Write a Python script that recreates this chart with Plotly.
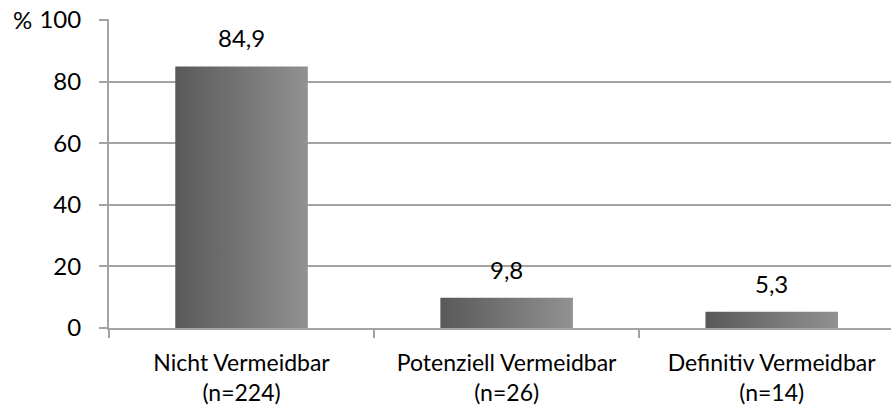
import plotly.graph_objects as go

categories = ["Nicht Vermeidbar<br>(n=224)", "Potenziell Vermeidbar<br>(n=26)", "Definitiv Vermeidbar<br>(n=14)"]
values = [84.9, 9.8, 5.3]
value_labels = ["84,9", "9,8", "5,3"]
y_ticks = [0, 20, 40, 60, 80, 100]

FONT = "Lato"
FS = 24
GRID = "#A3A3A3"
BAR_W = 0.5

fig = go.Figure()
xs = list(range(len(categories)))

# invisible bar trace (data carrier)
fig.add_trace(go.Bar(
    x=xs, y=values, width=BAR_W,
    marker=dict(color="rgba(0,0,0,0)", line=dict(width=0)),
    hoverinfo="skip", showlegend=False,
))

# gradient-filled bars
for i, v in enumerate(values):
    x0, x1 = i - BAR_W / 2, i + BAR_W / 2
    fig.add_trace(go.Scatter(
        x=[x0, x1, x1, x0, x0], y=[0, 0, v, v, 0],
        mode="lines", fill="toself", line=dict(width=0),
        fillgradient=dict(type="horizontal",
                          colorscale=[[0, "#595959"], [1, "#919191"]]),
        hoverinfo="skip", showlegend=False,
    ))

annotations = [dict(text=lbl, x=i, y=v, xref="x", yref="y", xanchor="center",
                    yanchor="bottom", yshift=12, showarrow=False,
                    font=dict(family=FONT, size=FS, color="#000000"))
               for i, (v, lbl) in enumerate(zip(values, value_labels))]
annotations.append(dict(text="%", xref="paper", yref="paper", x=-0.111, y=1.0,
                        xanchor="center", yanchor="middle", showarrow=False,
                        font=dict(family=FONT, size=FS, color="#000000")))

fig.update_layout(
    width=891, height=407,
    margin=dict(l=109, r=0, t=19, b=79, autoexpand=False),
    plot_bgcolor="white", paper_bgcolor="white",
    font=dict(family=FONT, size=FS, color="#000000"),
    showlegend=False,
    xaxis=dict(
        range=[-0.5, 2.45], tickmode="array", tickvals=xs, ticktext=categories,
        ticks="", showgrid=False, zeroline=False, automargin=False,
        showline=True, linecolor=GRID, linewidth=2,
        minor=dict(tickmode="array", tickvals=[-0.5, 0.5, 1.5, 2.5], ticks="outside",
                   ticklen=8, tickcolor=GRID, tickwidth=2, showgrid=False),
        tickfont=dict(family=FONT, size=23),
        ticklabelstandoff=13, ticklabeloverflow="allow",
    ),
    yaxis=dict(
        range=[0, 100.3], tickmode="array", tickvals=y_ticks, automargin=False,
        ticks="outside", ticklen=8, tickcolor=GRID, tickwidth=2,
        showgrid=True, gridcolor=GRID, gridwidth=1.5, zeroline=False,
        showline=True, linecolor=GRID, linewidth=2,
        tickfont=dict(family=FONT, size=FS),
        ticklabelstandoff=13, ticklabeloverflow="allow",
    ),
    annotations=annotations,
)

fig.write_html("out.html", config={"displayModeBar": False},
               post_script="document.body.style.margin='0';")
